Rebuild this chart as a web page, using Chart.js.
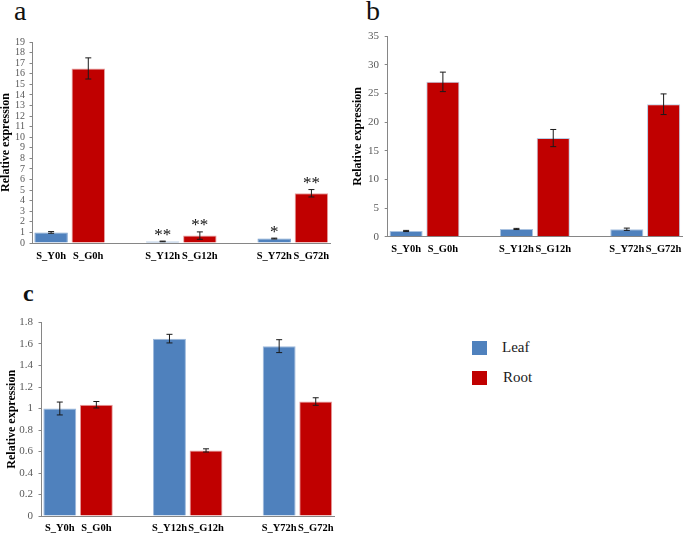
<!DOCTYPE html>
<html>
<head>
<meta charset="utf-8">
<script src="https://cdn.jsdelivr.net/npm/chart.js@4.4.1/dist/chart.umd.min.js"></script>
<style>
  body { margin: 0; background: #fff; }
  #wrap { position: relative; width: 685px; height: 534px; overflow: hidden; font-family: "Liberation Serif", "Times New Roman", serif; }
  canvas { position: absolute; }
  .letter { position: absolute; line-height: 1; color: #111; }
  .sw { position: absolute; width: 15px; height: 14px; }
  .lt { position: absolute; font-size: 15px; line-height: 15px; color: #1a1a1a; }
</style>
</head>
<body>
<div id="wrap">
  <div class="letter" style="left:14px;top:-3.5px;font-size:28px;">a</div>
  <div class="letter" style="left:366px;top:-3.5px;font-size:28px;">b</div>
  <div class="letter" style="left:23px;top:281px;font-size:24px;font-weight:bold;">c</div>
  <canvas id="chartA" width="345" height="275" style="left:0;top:0;"></canvas>
  <canvas id="chartB" width="340" height="275" style="left:345px;top:0;"></canvas>
  <canvas id="chartC" width="345" height="254" style="left:0;top:280px;"></canvas>
  <div id="legend"></div>
</div>
<script>
// x axis: one slot per bar, blank slots between the time points
var tickLabels = ['S_Y0h', 'S_G0h', '', 'S_Y12h', 'S_G12h', '', 'S_Y72h', 'S_G72h'];
var leafSlots = [0, 3, 6];
var rootSlots = [1, 4, 7];
var seriesNames = ['Leaf', 'Root'];
var seriesColors = ['#4F81BD', '#C00000'];

// panel a
var leafA = [1.0, 0.15, 0.42];
var leafErrA = [0.08, 0.03, 0.04];
var rootA = [16.5, 0.7, 4.7];
var rootErrA = [1.0, 0.35, 0.35];
var leafMarksA = ['', '**', '*'];
var rootMarksA = ['', '**', '**'];

// panel b
var leafB = [1.0, 1.35, 1.3];
var leafErrB = [0.1, 0.1, 0.2];
var rootB = [27.0, 17.2, 23.1];
var rootErrB = [1.7, 1.5, 1.8];

// panel c
var leafC = [1.0, 1.65, 1.58];
var leafErrC = [0.06, 0.04, 0.06];
var rootC = [1.035, 0.61, 1.065];
var rootErrC = [0.03, 0.015, 0.035];

Chart.defaults.font.family = '"Liberation Serif", "Times New Roman", serif';
Chart.defaults.color = '#595959';

function spread(vals, slots) {
    var out = tickLabels.map(function () { return null; });
    slots.forEach(function (s, i) { out[s] = vals[i]; });
    return out;
}

// draws error bars and the significance stars
var errorBars = {
    id: 'errorBars',
    afterDatasetsDraw: function (chart) {
        var ctx = chart.ctx;
        var y = chart.scales.y;
        chart.data.datasets.forEach(function (ds, di) {
            var meta = chart.getDatasetMeta(di);
            ds.data.forEach(function (v, i) {
                if (v == null) return;
                var e = ds.errors[i];
                var x = meta.data[i].x;
                var top = y.getPixelForValue(v + e);
                var bot = y.getPixelForValue(v - e);
                ctx.save();
                ctx.strokeStyle = '#1a1a1a';
                ctx.lineWidth = 1;
                ctx.beginPath();
                ctx.moveTo(x, top); ctx.lineTo(x, bot);
                ctx.moveTo(x - 3, top); ctx.lineTo(x + 3, top);
                ctx.moveTo(x - 3, bot); ctx.lineTo(x + 3, bot);
                ctx.stroke();
                var m = ds.marks ? ds.marks[i] : null;
                if (m) {
                    ctx.fillStyle = '#111';
                    ctx.font = '17px "Liberation Serif", serif';
                    ctx.textAlign = 'center';
                    ctx.textBaseline = 'alphabetic';
                    ctx.fillText(m, x, top - 1.5);
                }
                ctx.restore();
            });
        });
    }
};

function makeChart(id, p) {
    var datasets = [
        { label: seriesNames[0], data: spread(p.leaf, leafSlots), errors: spread(p.leafErr, leafSlots),
          marks: p.leafMarks ? spread(p.leafMarks, leafSlots) : null,
          backgroundColor: seriesColors[0], borderColor: p.leafBorder, borderWidth: 1,
          barPercentage: 0.9, categoryPercentage: 1.0 },
        { label: seriesNames[1], data: spread(p.root, rootSlots), errors: spread(p.rootErr, rootSlots),
          marks: p.rootMarks ? spread(p.rootMarks, rootSlots) : null,
          backgroundColor: seriesColors[1], borderColor: p.rootBorder, borderWidth: 1,
          barPercentage: 0.9, categoryPercentage: 1.0 }
    ];
    return new Chart(document.getElementById(id), {
        type: 'bar',
        data: { labels: tickLabels, datasets: datasets },
        plugins: [errorBars],
        options: {
            responsive: false,
            animation: false,
            events: [],
            layout: { padding: { top: p.top, right: p.right, left: 0, bottom: 0 } },
            plugins: { legend: { display: false }, tooltip: { enabled: false } },
            scales: {
                x: {
                    stacked: true,
                    grid: { display: false, drawTicks: true, tickLength: p.xTick },
                    border: { display: true, color: '#868686', width: 1 },
                    ticks: { autoSkip: false, maxRotation: 0, padding: 0, color: '#000',
                             font: { size: 10.5, weight: 'bold' } },
                    afterFit: function (s) { s.height = p.xHeight; }
                },
                y: {
                    min: 0, max: p.max,
                    grid: { drawOnChartArea: false, drawTicks: true, tickLength: 3, color: '#868686' },
                    border: { display: true, color: '#868686', width: 1 },
                    ticks: { stepSize: p.step, autoSkip: false, padding: p.yPad, color: '#595959',
                             font: { size: p.tickSize },
                             callback: function (v) { return String(+v.toFixed(1)); } },
                    title: { display: true, text: 'Relative expression', color: '#000',
                             font: { size: 12, weight: 'bold', lineHeight: 1 },
                             padding: { top: p.titlePad, bottom: 0 } },
                    afterFit: function (s) { s.width = p.yWidth; }
                }
            }
        }
    });
}

makeChart('chartA', { leaf: leafA, leafErr: leafErrA, root: rootA, rootErr: rootErrA,
    leafMarks: leafMarksA, rootMarks: rootMarksA, leafBorder: '#7A9FCC', rootBorder: '#E6A0A0',
    max: 19, step: 1, tickSize: 10, yPad: 4.5, titlePad: 0,
    top: 42, right: 15, yWidth: 32.5, xHeight: 32, xTick: 6.5 });

makeChart('chartB', { leaf: leafB, leafErr: leafErrB, root: rootB, rootErr: rootErrB,
    leafBorder: '#A9C2E0', rootBorder: '#B9CDE5',
    max: 35, step: 5, tickSize: 11, yPad: 5.7, titlePad: 6.5,
    top: 36, right: 3, yWidth: 42.7, xHeight: 38.3, xTick: 6 });

makeChart('chartC', { leaf: leafC, leafErr: leafErrC, root: rootC, rootErr: rootErrC,
    leafBorder: '#9DB9DC', rootBorder: '#E6A0A0',
    max: 1.8, step: 0.2, tickSize: 11, yPad: 5.5, titlePad: 6,
    top: 42.5, right: 11, yWidth: 41.5, xHeight: 18, xTick: 5.5 });

// legend
var legend = document.getElementById('legend');
var legendTops = [340.5, 370.5];
seriesNames.forEach(function (name, i) {
    var sw = document.createElement('div');
    sw.className = 'sw';
    sw.style.left = '472px';
    sw.style.top = legendTops[i] + 'px';
    sw.style.background = seriesColors[i];
    legend.appendChild(sw);
    var t = document.createElement('div');
    t.className = 'lt';
    t.style.left = (502 + i) + 'px';
    t.style.top = (legendTops[i] - 0.5) + 'px';
    t.textContent = name;
    legend.appendChild(t);
});
</script>
</body>
</html>
